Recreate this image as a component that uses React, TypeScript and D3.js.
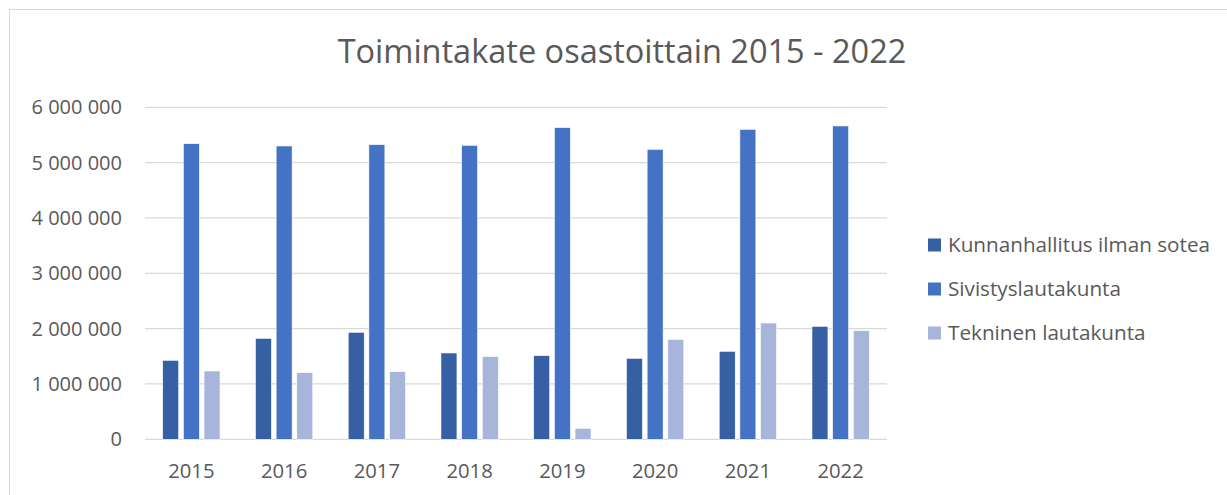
import React, { useEffect, useRef } from "react";
import * as d3 from "d3";

const years = ["2015", "2016", "2017", "2018", "2019", "2020", "2021", "2022"];
const seriesNames = ["Kunnanhallitus ilman sotea", "Sivistyslautakunta", "Tekninen lautakunta"];
const kunnanhallitus = [1428000, 1825000, 1934000, 1560000, 1512000, 1464000, 1590000, 2042000];
const sivistys = [5343000, 5301000, 5325000, 5313000, 5633000, 5241000, 5602000, 5663000];
const tekninen = [1235000, 1205000, 1223000, 1494000, 199000, 1807000, 2102000, 1964000];
const yTicks = [0, 1000000, 2000000, 3000000, 4000000, 5000000, 6000000];
const colors = ["#375FA3", "#4472C4", "#A8B5DB"];

const W = 1227, H = 495;
const FONT = "'Open Sans', sans-serif";
const TEXT = "#595959";

const fmt = (v: number) => d3.format(",")(v).replace(/,/g, " ");

export default function App() {
  const ref = useRef<SVGSVGElement>(null);

  useEffect(() => {
    const svg = d3.select(ref.current);
    svg.selectAll("*").remove();

    // chart frame
    svg.append("rect")
      .attr("x", 9.5).attr("y", 9.5)
      .attr("width", W + 20).attr("height", H + 20)
      .attr("fill", "#fff").attr("stroke", "#D9D9D9").attr("stroke-width", 1);

    svg.append("text")
      .attr("x", 622).attr("y", 63)
      .attr("text-anchor", "middle")
      .attr("font-family", FONT).attr("font-size", 32.5)
      .attr("fill", TEXT)
      .text("Toimintakate osastoittain 2015 - 2022");

    const left = 145, right = 887, top = 107.3, bottom = 439.3;

    const y = d3.scaleLinear().domain([0, 6000000]).range([bottom, top]);
    const x0 = d3.scaleBand().domain(years).range([left, right]).paddingInner(0.382).paddingOuter(0.191);
    const x1 = d3.scaleBand().domain(seriesNames).range([0, x0.bandwidth()]).paddingInner(0.226).paddingOuter(0);

    // gridlines
    svg.append("g").selectAll("line")
      .data(yTicks)
      .enter().append("line")
      .attr("x1", left).attr("x2", right)
      .attr("y1", d => y(d)).attr("y2", d => y(d))
      .attr("stroke", "#D9D9D9").attr("stroke-width", 1.3);

    // y labels
    svg.append("g").selectAll("text")
      .data(yTicks)
      .enter().append("text")
      .attr("x", 122).attr("y", d => y(d))
      .attr("dy", "0.35em")
      .attr("text-anchor", "end")
      .attr("font-family", FONT).attr("font-size", 20)
      .attr("fill", TEXT)
      .text(d => fmt(d));

    const data = [kunnanhallitus, sivistys, tekninen];

    const groups = svg.append("g").selectAll("g")
      .data(years)
      .enter().append("g")
      .attr("transform", d => `translate(${x0(d)},0)`);

    groups.selectAll("rect")
      .data((_, i) => data.map((s, j) => ({ name: seriesNames[j], value: s[i], color: colors[j] })))
      .enter().append("rect")
      .attr("x", d => x1(d.name)!)
      .attr("y", d => y(d.value))
      .attr("width", x1.bandwidth())
      .attr("height", d => bottom - y(d.value))
      .attr("fill", d => d.color)
      .attr("stroke", "#fff").attr("stroke-width", 0.6);

    // x labels
    svg.append("g").selectAll("text")
      .data(years)
      .enter().append("text")
      .attr("x", d => x0(d)! + x0.bandwidth() / 2)
      .attr("y", 471)
      .attr("dy", "0.35em")
      .attr("text-anchor", "middle")
      .attr("font-family", FONT).attr("font-size", 20.3)
      .attr("fill", TEXT)
      .text(d => d);

    // legend
    const legend = svg.append("g").selectAll("g")
      .data(seriesNames)
      .enter().append("g")
      .attr("transform", (_, i) => `translate(928,${245 + i * 44})`);

    legend.append("rect")
      .attr("x", 0).attr("y", -6.5)
      .attr("width", 13).attr("height", 13)
      .attr("fill", (_, i) => colors[i]);

    legend.append("text")
      .attr("x", 20).attr("y", 0)
      .attr("dy", "0.35em")
      .attr("font-family", FONT).attr("font-size", 20.7)
      .attr("fill", TEXT)
      .text(d => d);
  }, []);

  return (
    <svg ref={ref} width={W} height={H}
      style={{ position: "absolute", left: 0, top: 0, background: "#fff" }} />
  );
}
